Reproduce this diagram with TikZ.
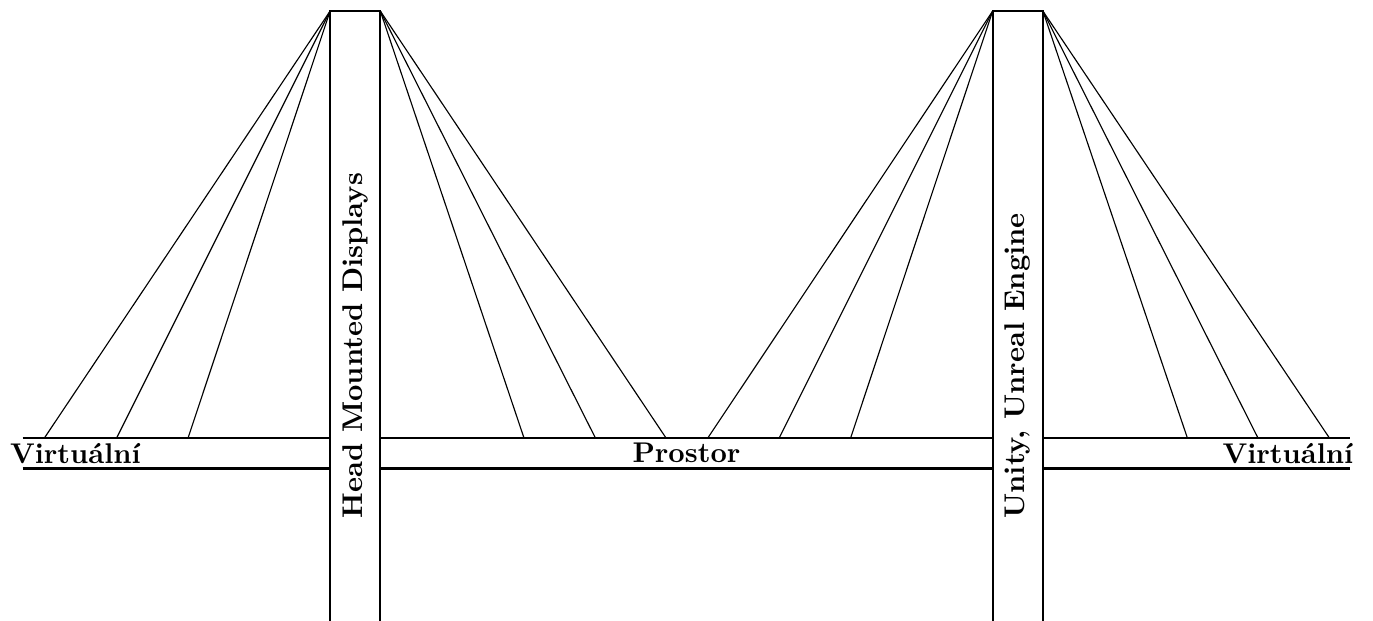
\documentclass[tikz,border=0pt]{standalone}
\usepackage{tikz}
\usetikzlibrary{positioning}

\begin{document}
\begin{tikzpicture}[
    pylon/.style={draw, thick, fill=white},
    deck/.style={draw, thick},
    cable/.style={draw, thin},
    label/.style={font=\bfseries, inner sep=3.33pt}
]
\useasboundingbox (0,0) rectangle (16.93,7.657);

% Deck edges
\coordinate (dl) at (0.28,2.26);
\coordinate (dr) at (16.65,2.26);
\coordinate (bl) at (0.28,1.88);
\coordinate (br) at (16.65,1.88);
\draw[deck] (dl) -- (dr);
\draw[deck] (bl) -- (br);

% Pylon top corners
\coordinate (h1) at (4.07,7.52);
\coordinate (h2) at (4.69,7.52);
\coordinate (u1) at (12.24,7.52);
\coordinate (u2) at (12.86,7.52);

% Cable anchors on the deck
\coordinate (a1) at (0.55,2.26);
\coordinate (a2) at (1.44,2.26);
\coordinate (a3) at (2.32,2.26);
\coordinate (a4) at (6.46,2.26);
\coordinate (a5) at (7.34,2.26);
\coordinate (a6) at (8.21,2.26);
\coordinate (a7) at (8.73,2.26);
\coordinate (a8) at (9.61,2.26);
\coordinate (a9) at (10.49,2.26);
\coordinate (a10) at (14.64,2.26);
\coordinate (a11) at (15.51,2.26);
\coordinate (a12) at (16.39,2.26);

% Cables
\draw[cable] (h1) -- (a1);
\draw[cable] (h1) -- (a2);
\draw[cable] (h1) -- (a3);
\draw[cable] (h2) -- (a4);
\draw[cable] (h2) -- (a5);
\draw[cable] (h2) -- (a6);
\draw[cable] (u1) -- (a7);
\draw[cable] (u1) -- (a8);
\draw[cable] (u1) -- (a9);
\draw[cable] (u2) -- (a10);
\draw[cable] (u2) -- (a11);
\draw[cable] (u2) -- (a12);

% Pylons (open at the bottom)
\draw[pylon] (4.07,-0.1) -- (h1) -- (h2) -- (4.69,-0.1);
\draw[pylon] (12.24,-0.1) -- (u1) -- (u2) -- (12.86,-0.1);

% Labels
\node[label, anchor=west] (left) at (0,2.07) {Virtuální};
\node[label] (middle) at (8.465,2.07) {Prostor};
\node[label, anchor=east] (right) at (16.81,2.07) {Virtuální};
\node[label, rotate=90, anchor=west] (hmd) at (4.38,1.14) {Head Mounted Displays};
\node[label, rotate=90, anchor=west] (engine) at (12.55,1.14) {Unity, Unreal Engine};

\end{tikzpicture}
\end{document}
